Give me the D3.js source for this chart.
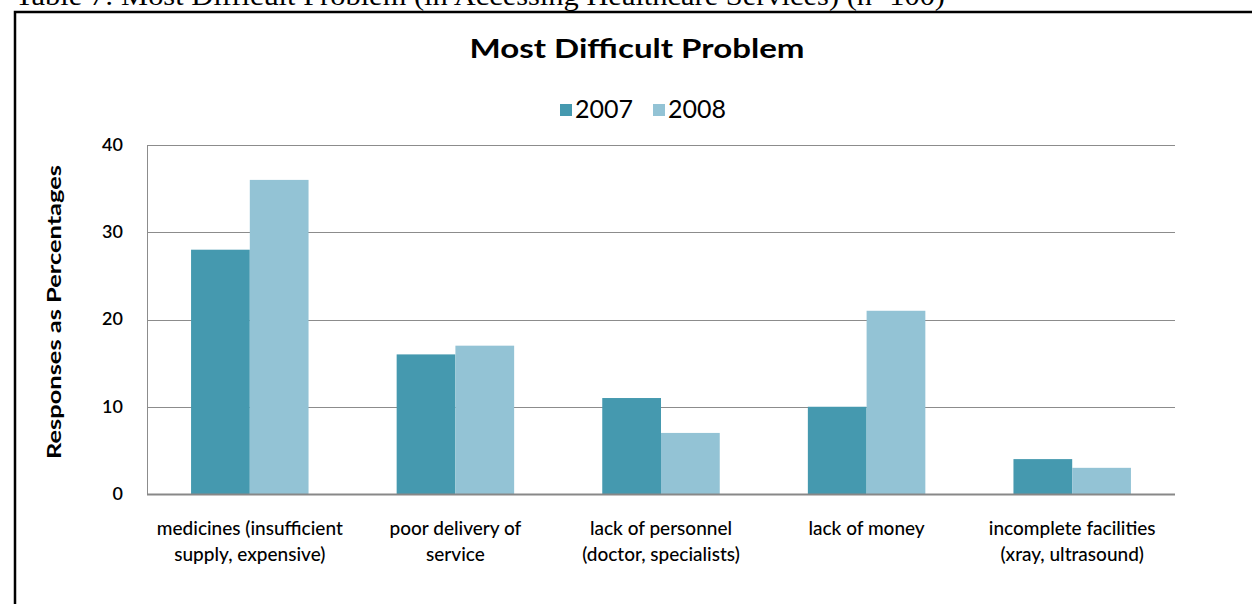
<!DOCTYPE html>
<html><head><meta charset="utf-8">
<script src="https://cdn.jsdelivr.net/npm/d3@7"></script>
<style>body{margin:0;background:#fff;}svg{display:block;}</style>
</head><body>
<svg id="c" width="1252" height="604"></svg>
<script>
const categories = [
  ["medicines (insufficient", "supply, expensive)"],
  ["poor delivery of", "service"],
  ["lack of personnel", "(doctor, specialists)"],
  ["lack of money"],
  ["incomplete facilities", "(xray, ultrasound)"]
];
const seriesNames = ["2007", "2008"];
const values2007 = [28, 16, 11, 10, 4];
const values2008 = [36, 17, 7, 21, 3];
const yTicks = [0, 10, 20, 30, 40];
const colors = ["#4599AF", "#93C3D5"];

const svg = d3.select("#c");
const W = 1252, H = 604;
const m = {left: 147, right: 1175, top: 145, bottom: 494};

// caption (cut off at top, as in the source page)
svg.append("text").attr("x", 15).attr("y", 5)
  .attr("font-family", "Liberation Serif, Times New Roman, serif")
  .attr("font-size", 28).attr("font-weight", "normal")
  .attr("textLength", 930).attr("lengthAdjust", "spacingAndGlyphs")
  .text("Table 7: Most Difficult Problem (in Accessing Healthcare Services) (n=100)");

// frame
svg.append("path").attr("d", `M15,${H+5} V12 H${W+5}`)
  .attr("fill", "none").attr("stroke", "#000").attr("stroke-width", 2.5);

const ids = d3.range(categories.length);
const x0 = d3.scaleBand().domain(ids).range([m.left, m.right]).paddingInner(0).paddingOuter(0);
const groupW = x0.bandwidth() / 1.75;
const x1 = d3.scaleBand().domain(seriesNames).range([0, groupW]);
const y = d3.scaleLinear().domain([0, 40]).range([m.bottom, m.top]);

// gridlines
svg.append("g").selectAll("line").data(yTicks.filter(d => d > 0)).join("line")
  .attr("x1", m.left).attr("x2", m.right)
  .attr("y1", d => Math.round(y(d)) + 0.5).attr("y2", d => Math.round(y(d)) + 0.5)
  .attr("stroke", "#8c8c8c").attr("stroke-width", 1);

// bars
const data = ids.map(i => [values2007[i], values2008[i]]);
const groups = svg.append("g").selectAll("g").data(data).join("g")
  .attr("transform", (d, i) => `translate(${x0(i) + (x0.bandwidth() - groupW) / 2},0)`);
groups.selectAll("rect").data(d => d.map((v, j) => ({v, j}))).join("rect")
  .attr("x", d => x1(seriesNames[d.j]))
  .attr("width", x1.bandwidth())
  .attr("y", d => y(d.v))
  .attr("height", d => y(0) - y(d.v))
  .attr("fill", d => colors[d.j]);

// left axis line
svg.append("line").attr("x1", m.left + 0.5).attr("x2", m.left + 0.5)
  .attr("y1", m.top).attr("y2", m.bottom).attr("stroke", "#8c8c8c");
// bottom axis
svg.append("line").attr("x1", m.left).attr("x2", m.right)
  .attr("y1", m.bottom + 0.5).attr("y2", m.bottom + 0.5)
  .attr("stroke", "#888").attr("stroke-width", 2);

// y tick labels
const yAxis = d3.axisLeft(y).tickValues(yTicks).tickSize(0).tickPadding(24);
const ya = svg.append("g").attr("transform", `translate(${m.left},0)`).call(yAxis);
ya.select(".domain").remove();
ya.selectAll("text").attr("font-family", "Lato, sans-serif").attr("font-size", 18)
  .attr("font-weight", "600").attr("fill", "#000").attr("dy", "0.3em");

// y title
svg.append("text").attr("transform", "translate(61,312) rotate(-90)")
  .attr("text-anchor", "middle").attr("font-family", "Lato, sans-serif")
  .attr("font-size", 19).attr("font-weight", "bold").attr("fill", "#000")
  .attr("textLength", 294).attr("lengthAdjust", "spacingAndGlyphs")
  .text("Responses as Percentages");

// x labels
const xl = svg.append("g");
categories.forEach((lines, i) => {
  const cx = x0(i) + x0.bandwidth() / 2;
  lines.forEach((t, k) => {
    xl.append("text").attr("x", cx).attr("y", 535 + k * 26)
      .attr("text-anchor", "middle").attr("font-family", "Lato, sans-serif")
      .attr("font-size", 19).attr("font-weight", "500").attr("fill", "#000").text(t);
  });
});

// title
svg.append("text").attr("x", 637).attr("y", 58).attr("text-anchor", "middle")
  .attr("font-family", "Lato, sans-serif").attr("font-size", 26).attr("font-weight", "bold")
  .attr("textLength", 335).attr("lengthAdjust", "spacingAndGlyphs")
  .text("Most Difficult Problem");

// legend
const lg = svg.append("g");
const legX = [560, 653];
seriesNames.forEach((s, j) => {
  lg.append("rect").attr("x", legX[j]).attr("y", 104).attr("width", 12).attr("height", 12).attr("fill", colors[j]);
  lg.append("text").attr("x", legX[j] + 15).attr("y", 118)
    .attr("font-family", "Lato, sans-serif").attr("font-size", 25).attr("fill", "#000").text(s);
});
</script>
</body></html>
